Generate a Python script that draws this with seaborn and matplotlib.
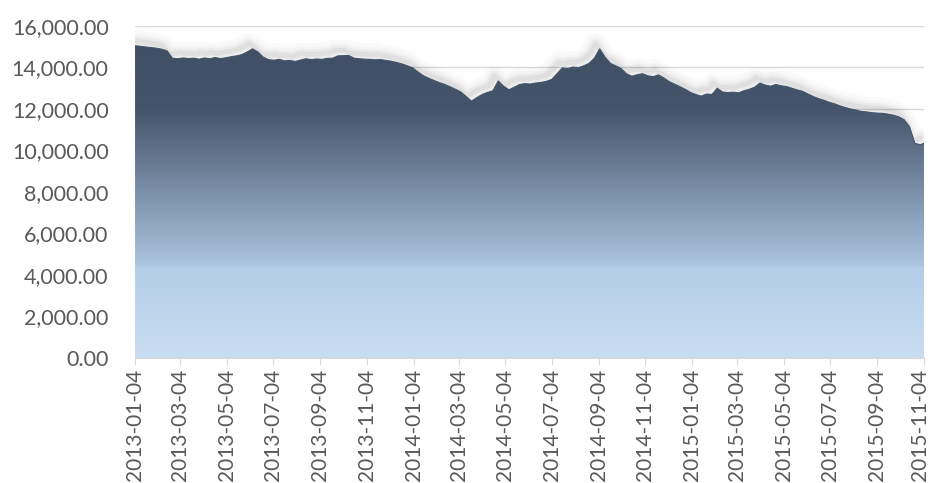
import numpy as np
import pandas as pd
import matplotlib
matplotlib.use("Agg")
import matplotlib.pyplot as plt
import matplotlib.dates as mdates
from matplotlib.colors import LinearSegmentedColormap
from matplotlib.transforms import offset_copy, ScaledTranslation
import seaborn as sns

# weekly closes (last point is the final trading day shown)
start_date = "2013-01-04"
end_date = "2015-11-04"
values = [
    15050, 15020, 14990, 14960, 14930, 14880, 14800, 14450, 14420, 14460,
    14430, 14450, 14400, 14460, 14420, 14480, 14430, 14470, 14520, 14560,
    14620, 14750, 14900, 14750, 14500, 14380, 14350, 14390, 14320, 14340,
    14290, 14360, 14420, 14380, 14410, 14390, 14440, 14450, 14560, 14570,
    14580, 14450, 14420, 14400, 14390, 14370, 14380, 14340, 14300, 14240,
    14170, 14080, 13980, 13780, 13600, 13480, 13370, 13270, 13180, 13070,
    12950, 12820, 12600, 12380, 12550, 12700, 12800, 12880, 13350, 13100,
    12930, 13050, 13180, 13220, 13200, 13250, 13280, 13330, 13420, 13700,
    13980, 13950, 14020, 13990, 14080, 14200, 14450, 14900, 14500, 14200,
    14080, 13950, 13700, 13580, 13650, 13700, 13600, 13560, 13640, 13500,
    13320, 13200, 13080, 12950, 12800, 12700, 12620, 12720, 12700, 13000,
    12820, 12790, 12810, 12780, 12880, 12950, 13050, 13250, 13150, 13100,
    13180, 13120, 13080, 13000, 12920, 12850, 12720, 12600, 12500, 12420,
    12320, 12250, 12150, 12070, 12000, 11950, 11880, 11860, 11820, 11800,
    11790, 11750, 11700, 11620, 11480, 11150, 10350, 10270, 10350,
]
tick_labels = [
    "2013-01-04", "2013-03-04", "2013-05-04", "2013-07-04", "2013-09-04",
    "2013-11-04", "2014-01-04", "2014-03-04", "2014-05-04", "2014-07-04",
    "2014-09-04", "2014-11-04", "2015-01-04", "2015-03-04", "2015-05-04",
    "2015-07-04", "2015-09-04", "2015-11-04",
]
y_ticks = [0, 2000, 4000, 6000, 8000, 10000, 12000, 14000, 16000]

dates = list(pd.date_range(start_date, periods=len(values) - 1, freq="7D"))
dates.append(pd.Timestamp(end_date))
df = pd.DataFrame({"date": dates, "value": values})

sns.set_style("white")
plt.rcParams["font.family"] = ["Lato", "DejaVu Sans"]

fig = plt.figure(figsize=(9.32, 4.83), dpi=100)
ax = fig.add_axes([0.1449, 0.2588, 0.8465, 0.6874])

# soft shadow above the top edge
shadow_tr = offset_copy(ax.transData, fig=fig, x=-4, y=5, units="dots")
for lw, a in [(16, 0.018), (11, 0.025), (7, 0.035), (3.5, 0.05)]:
    ax.plot(df["date"], df["value"], color="black", lw=lw, alpha=a,
            transform=shadow_tr, solid_joinstyle="round", zorder=1)

sns.lineplot(data=df, x="date", y="value", color="#44546a", lw=0.8, ax=ax, zorder=4)

# gradient fill clipped to the area under the series
x0 = mdates.date2num(pd.Timestamp(start_date))
x1 = mdates.date2num(pd.Timestamp(end_date))
cmap = LinearSegmentedColormap.from_list("fill", [
    (0.0, "#c9ddf1"),
    (4350 / 16000, "#b3cde8"),
    (4450 / 16000, "#abc4e0"),
    (12000 / 16000, "#44546a"),
    (1.0, "#3f4e63"),
])
grad = np.linspace(0, 1, 512).reshape(-1, 1)
im = ax.imshow(grad, extent=[x0, x1, 0, 16000], origin="lower", aspect="auto",
               cmap=cmap, zorder=3, interpolation="bilinear")
poly = ax.fill_between(df["date"], df["value"], 0, color="none", lw=0)
im.set_clip_path(poly.get_paths()[0], transform=ax.transData)

ax.set_xlim(x0, x1)
ax.set_ylim(0, 16000)
ax.set_yticks(y_ticks)
ax.set_yticklabels([f"{v:,.2f}" for v in y_ticks])
ax.set_xticks([mdates.date2num(pd.Timestamp(t)) for t in tick_labels])
ax.set_xticklabels(tick_labels, rotation=90)
ax.set_xlabel("")
ax.set_ylabel("")

ax.grid(axis="y", color="#d9d9d9", lw=1)
ax.set_axisbelow(True)
for side in ["top", "right", "left"]:
    ax.spines[side].set_visible(False)
ax.spines["bottom"].set_color("#d9d9d9")
ax.spines["bottom"].set_zorder(5)
ax.tick_params(axis="y", length=0, labelsize=15.5, labelcolor="#595959", pad=19)
ax.tick_params(axis="x", length=5, color="#d9d9d9", direction="out",
               labelsize=15, labelcolor="#595959", pad=3, bottom=True)

# nudge the last date label so it stays inside the canvas
last = ax.get_xticklabels()[-1]
last.set_transform(last.get_transform() + ScaledTranslation(-4 / 100, 0, fig.dpi_scale_trans))

fig.savefig("out.png", dpi=100)
